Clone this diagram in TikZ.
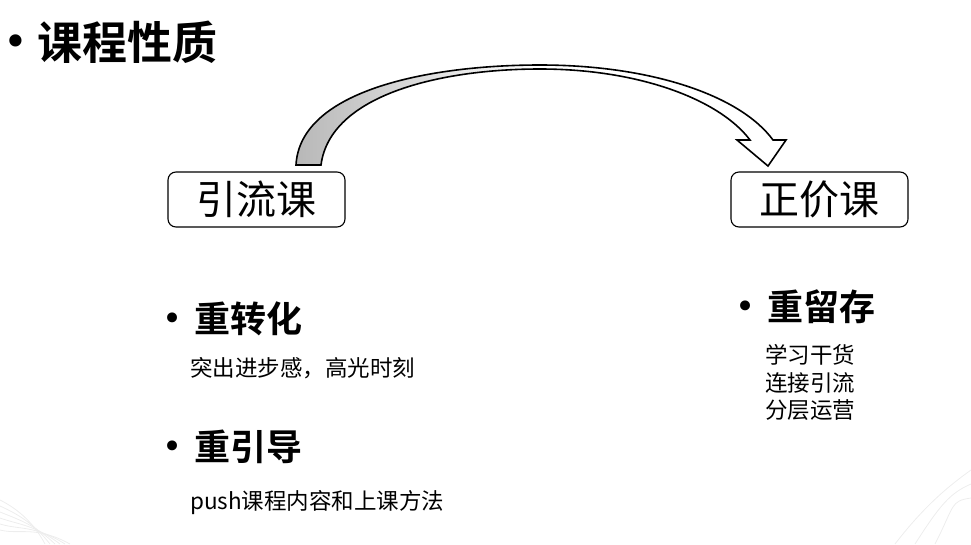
\documentclass[tikz,border=0pt]{standalone}
\usepackage{fontspec}
\setmainfont{Noto Sans CJK SC}
\newfontfamily\cjkb{Noto Sans CJK SC Bold}
\newfontfamily\dejavu{DejaVu Sans}
\begin{document}
\begin{tikzpicture}[x=1pt,y=-1pt,
  boxnode/.style={draw,line width=1.1pt,rounded corners=8pt,minimum width=177pt,minimum height=55pt,inner sep=0pt,font=\fontsize{40}{44}\selectfont},
  headtext/.style={anchor=west,inner sep=0pt,font=\cjkb\fontsize{36}{40}\selectfont},
  bodytext/.style={anchor=west,inner sep=0pt,font=\fontsize{22.5}{27}\selectfont},
  bulletdot/.style={anchor=center,inner sep=0pt,font=\dejavu\fontsize{34}{36}\selectfont},
  deco/.style={draw=black!7,line width=0.8pt}]
\useasboundingbox (0,0) rectangle (971,544);
% faint corner decorations
\foreach \i in {0,1,2,3,4,5}{
  \draw[deco] (0,{500+6*\i}) .. controls (20,{510+5*\i}) and (35,525) .. ({45+5*\i},544);
}
\foreach \i in {0,1,2}{
  \draw[deco] ({895+20*\i},544) .. controls ({925+15*\i},505) and (950,{485+8*\i}) .. (971,{470+14*\i});
}
% title
\node[bulletdot,font=\dejavu\fontsize{42}{44}\selectfont] (tb) at (16,46) {•};
\node[anchor=west,inner sep=0pt,font=\cjkb\fontsize{45}{50}\selectfont] (title) at (37,42) {课程性质};
% boxes
\node[boxnode] (yl) at (256.5,199.5) {引流课};
\node[boxnode] (zj) at (819.5,199.5) {正价课};
% curved block arrow
\coordinate (as) at (296,165);
\coordinate (tip) at (768,166);
\path[draw=black,line width=1.6pt,line join=miter,left color=black!28,right color=white,middle color=white]
  (as) .. controls (300,90) and (430,65) .. (540,65)
  .. controls (650,65) and (740,95) .. (773,140)
  -- (786,140) -- (tip) -- (737,140) -- (750,140)
  .. controls (720,100) and (640,69) .. (540,69)
  .. controls (440,69) and (330,95) .. (321,165) -- cycle;
% left bullets
\node[bulletdot] (b1) at (173,322) {•};
\node[headtext] (h1) at (194,319) {重转化};
\node[bodytext] (t1) at (190,368) {突出进步感，高光时刻};
\node[bulletdot] (b2) at (173,450) {•};
\node[headtext] (h2) at (194,447) {重引导};
\node[bodytext] (t2) at (190,503) {push课程内容和上课方法};
% right bullets
\node[bulletdot] (b3) at (746,310) {•};
\node[headtext] (h3) at (767,307) {重留存};
\node[bodytext] (t3) at (765,355) {学习干货};
\node[bodytext] (t4) at (765,383) {连接引流};
\node[bodytext] (t5) at (765,410) {分层运营};
\end{tikzpicture}
\end{document}
